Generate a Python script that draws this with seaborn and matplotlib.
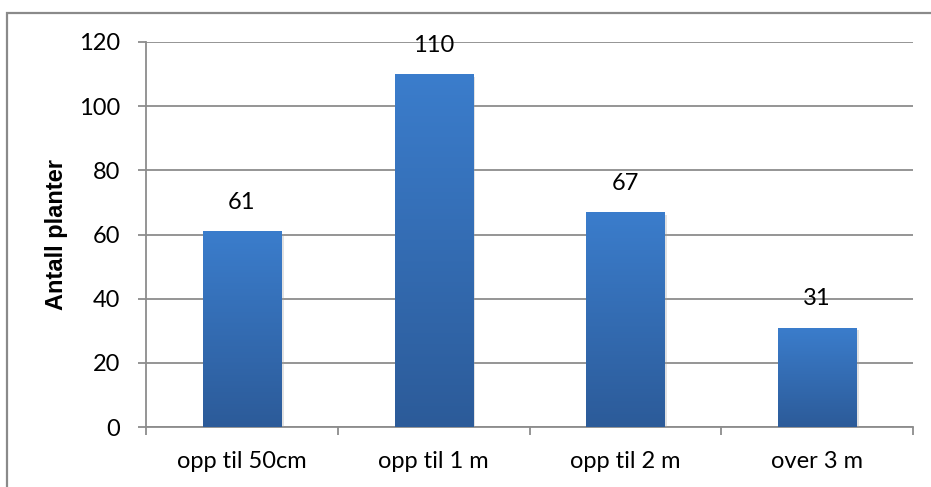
import numpy as np
import pandas as pd
import matplotlib
matplotlib.use("Agg")
import matplotlib.pyplot as plt
import matplotlib.patheffects as pe
from matplotlib.patches import Rectangle
import seaborn as sns

categories = ["opp til 50cm", "opp til 1 m", "opp til 2 m", "over 3 m"]
counts = [61, 110, 67, 31]
y_ticks = [0, 20, 40, 60, 80, 100, 120]
y_label = "Antall planter"

sns.set_theme(style="white")
plt.rcParams["font.family"] = ["Lato", "DejaVu Sans"]

df = pd.DataFrame({"kategori": categories, "antall": counts})

W, H = 931, 487
fig = plt.figure(figsize=(W / 100, H / 100), dpi=100)
fig.patch.set_facecolor("white")

# outer chart border (top and left edges visible)
fig.add_artist(Rectangle((6.5 / W, -0.05), 1.2, 1.05 - 12.5 / H,
                         transform=fig.transFigure, fill=False,
                         edgecolor="#8a8a8a", linewidth=1.6))

left, right, top, bottom = 146, 913, 42, 427
ax = fig.add_axes([left / W, (H - bottom) / H, (right - left) / W, (bottom - top) / H])

grid_col = "#8c8c8c"
sns.barplot(data=df, x="kategori", y="antall", ax=ax, width=0.407,
            color="#3a78c2", saturation=1, zorder=3)

ax.set_ylim(0, 120)
ax.set_yticks(y_ticks)
ax.set_xlim(-0.5, len(categories) - 0.5)
ax.yaxis.grid(True, color=grid_col, linewidth=1.3, zorder=0)
ax.set_axisbelow(True)

# vertical gradient fill with soft shadow on each bar
grad = np.linspace(0, 1, 256).reshape(-1, 1)
top_c = np.array([59, 125, 204]) / 255
bot_c = np.array([44, 91, 153]) / 255
img = (top_c[None, None, :] * (1 - grad[..., None]) + bot_c[None, None, :] * grad[..., None])
for p in ax.patches:
    x0, w = p.get_x(), p.get_width()
    h = p.get_height()
    p.set_edgecolor("none")
    p.set_path_effects([pe.SimplePatchShadow(offset=(2, -2), shadow_rgbFace="#a0a0a0",
                                             alpha=0.3), pe.Normal()])
    im = ax.imshow(img, extent=[x0, x0 + w, 0, h], aspect="auto", zorder=4,
                   interpolation="bilinear")
    im.set_clip_path(p)

# value labels above bars
for i, v in enumerate(counts):
    ax.annotate(str(v), xy=(i, v), xytext=(0, 13), textcoords="offset points",
                ha="center", va="bottom", fontsize=17, color="black", zorder=6)

for s in ["top", "right"]:
    ax.spines[s].set_visible(False)
ax.spines["left"].set_color(grid_col)
ax.spines["bottom"].set_color(grid_col)
ax.spines["left"].set_linewidth(1.3)
ax.spines["bottom"].set_linewidth(1.3)

ax.set_xticks([-0.5, 0.5, 1.5, 2.5, 3.5], minor=True)
ax.tick_params(axis="x", which="minor", length=5.5, width=1.3, color=grid_col, bottom=True)
ax.tick_params(axis="x", which="major", length=0, pad=17, labelsize=17, labelcolor="black")
ax.tick_params(axis="y", length=5.8, width=1.3, color=grid_col, left=True, pad=13,
               labelsize=17, labelcolor="black")

ax.set_xlabel("")
ax.set_ylabel(y_label, fontsize=17, fontweight="bold", color="black", labelpad=8,
              family=["Liberation Sans", "DejaVu Sans"])
ax.set_facecolor("white")

fig.savefig("out.png", dpi=100, facecolor="white")
